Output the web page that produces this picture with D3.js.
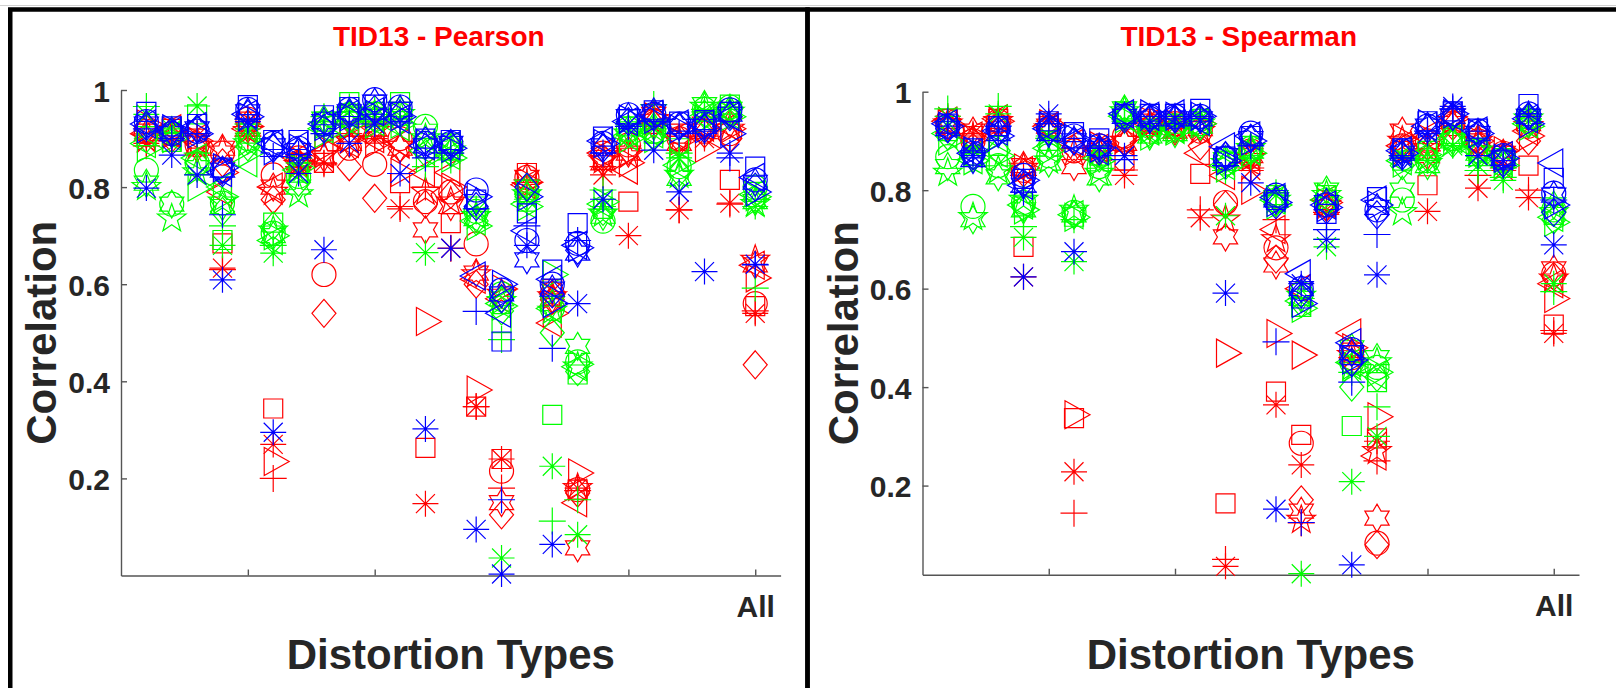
<!DOCTYPE html>
<html><head><meta charset="utf-8">
<script src="https://cdn.jsdelivr.net/npm/d3@7"></script>
<style>html,body{margin:0;padding:0;background:#fff;}svg{display:block;}</style>
</head><body>
<svg id="chart" width="1616" height="688"></svg>
<script>
// ---------------- DATA ----------------
const categories = d3.range(1, 26);            // 24 distortion types + "All" (25)
const xTickValues = [5, 10, 15, 20, 25];
const xTickLabels = ["", "", "", "", "All"];
const yTickValues = [0.2, 0.4, 0.6, 0.8, 1];
const yTickLabels = ["0.2", "0.4", "0.6", "0.8", "1"];
const titles = ["TID13 - Pearson", "TID13 - Spearman"];

const markersRG = ["o", "s", "d", ">", "<", "*", "+", "h", "p"];
const markersB  = ["o", "s", "d", ">", "<", "*", "+", "h"];

// rows = categories 1..25, columns = markers
const pearsonRed = [
[.915,.91,.92,.93,.91,.89,.885,.91,.90],
[.91,.92,.90,.915,.92,.90,.895,.91,.905],
[.887,.90,.89,.895,.90,.905,.91,.88,.885],
[.87,.684,.85,.83,.79,.633,.63,.88,.875],
[.94,.935,.93,.925,.92,.91,.905,.92,.915],
[.825,.344,.774,.235,.80,.27,.20,.80,.79],
[.86,.85,.85,.855,.86,.84,.842,.85,.845],
[.62,.85,.54,.88,.87,.85,.848,.86,.865],
[.88,.913,.842,.90,.89,.91,.905,.89,.895],
[.847,.91,.777,.89,.90,.90,.905,.92,.915],
[.90,.808,.88,.83,.89,.755,.76,.88,.885],
[.77,.263,.765,.523,.83,.148,.80,.712,.79],
[.79,.726,.785,.80,.83,.674,.674,.76,.77],
[.683,.348,.60,.382,.61,.348,.348,.623,.62],
[.215,.24,.125,.59,.57,.24,.18,.15,.58],
[.82,.829,.80,.81,.805,.81,.815,.82,.80],
[.58,.59,.568,.54,.52,.585,.58,.57,.575],
[.177,.177,.17,.211,.15,.18,.175,.057,.18],
[.87,.856,.86,.865,.87,.825,.842,.85,.855],
[.887,.77,.875,.85,.835,.70,.88,.87,.865],
[.935,.94,.93,.945,.94,.925,.93,.95,.94],
[.90,.91,.90,.895,.905,.753,.753,.89,.895],
[.915,.92,.91,.88,.925,.90,.905,.93,.92],
[.91,.815,.90,.92,.925,.767,.765,.93,.92],
[.56,.555,.434,.613,.639,.54,.545,.64,.65]
];
const pearsonGreen = [
[.835,.905,.90,.88,.89,.95,.966,.808,.80],
[.765,.893,.91,.90,.905,.92,.91,.765,.735],
[.85,.95,.85,.80,.86,.967,.87,.84,.83],
[.767,.691,.75,.78,.80,.68,.72,.76,.77],
[.90,.91,.883,.87,.85,.92,.93,.897,.89],
[.705,.727,.72,.70,.69,.664,.68,.70,.71],
[.822,.83,.81,.84,.835,.85,.86,.80,.785],
[.93,.935,.92,.91,.92,.935,.945,.94,.925],
[.95,.975,.94,.93,.935,.955,.965,.95,.945],
[.95,.955,.94,.93,.935,.945,.96,.95,.94],
[.95,.975,.935,.93,.925,.94,.945,.96,.95],
[.925,.88,.87,.86,.875,.665,.842,.915,.90],
[.88,.89,.87,.86,.865,.87,.856,.88,.875],
[.75,.76,.73,.72,.73,.75,.755,.735,.74],
[.58,.52,.545,.555,.56,.036,.486,.57,.565],
[.79,.77,.78,.76,.765,.775,.77,.80,.785],
[.55,.331,.50,.62,.55,.225,.112,.56,.545],
[.44,.414,.42,.435,.43,.084,.156,.472,.43],
[.73,.755,.75,.77,.765,.76,.794,.74,.745],
[.92,.925,.91,.90,.905,.915,.93,.92,.91],
[.915,.91,.905,.90,.91,.92,.97,.925,.92],
[.842,.88,.83,.85,.845,.86,.87,.818,.825],
[.96,.955,.95,.94,.945,.955,.96,.97,.965],
[.965,.97,.95,.945,.95,.96,.965,.96,.955],
[.80,.79,.775,.78,.785,.76,.592,.77,.765]
];
const pearsonBlue = [
[.935,.955,.925,.92,.93,.798,.92,.93],
[.91,.925,.915,.92,.915,.866,.90,.91],
[.915,.93,.92,.91,.925,.825,.91,.92],
[.835,.84,.83,.84,.83,.609,.743,.835],
[.96,.969,.95,.945,.95,.935,.94,.955],
[.89,.897,.88,.875,.89,.295,.863,.885],
[.88,.897,.87,.88,.885,.828,.867,.875],
[.93,.948,.92,.925,.93,.671,.91,.935],
[.96,.965,.95,.945,.95,.89,.93,.955],
[.98,.97,.96,.95,.955,.93,.94,.975],
[.965,.955,.95,.945,.94,.828,.932,.96],
[.89,.90,.895,.89,.885,.302,.86,.885],
[.89,.897,.885,.88,.885,.674,.87,.89],
[.794,.774,.76,.78,.617,.095,.544,.77],
[.588,.482,.57,.60,.54,.003,.156,.58],
[.69,.746,.80,.78,.71,.68,.72,.65],
[.60,.63,.58,.56,.61,.064,.468,.59],
[.684,.726,.67,.675,.68,.56,.69,.664],
[.89,.904,.88,.89,.895,.775,.87,.885],
[.949,.94,.935,.94,.935,.93,.925,.945],
[.95,.958,.945,.94,.95,.876,.935,.955],
[.93,.935,.925,.92,.93,.79,.91,.925],
[.93,.938,.92,.92,.93,.626,.915,.925],
[.959,.955,.945,.91,.945,.87,.86,.95],
[.815,.842,.80,.79,.82,.641,.64,.81]
];

const spearmanRed = [
[.94,.945,.93,.935,.94,.95,.945,.93,.935],
[.90,.91,.90,.905,.91,.915,.91,.92,.905],
[.94,.945,.935,.94,.945,.95,.94,.935,.94],
[.84,.685,.835,.845,.84,.624,.83,.85,.845],
[.925,.93,.92,.935,.93,.94,.935,.93,.925],
[.88,.337,.885,.344,.895,.228,.144,.848,.875],
[.89,.885,.88,.89,.885,.88,.885,.875,.88],
[.91,.86,.90,.905,.90,.83,.841,.895,.90],
[.94,.935,.93,.94,.935,.925,.92,.93,.935],
[.935,.93,.925,.935,.93,.93,.925,.92,.93],
[.92,.833,.89,.935,.875,.744,.76,.925,.92],
[.775,.164,.77,.469,.83,.036,.05,.705,.74],
[.88,.87,.875,.80,.86,.84,.845,.87,.865],
[.683,.391,.66,.509,.72,.364,.74,.648,.70],
[.286,.303,.171,.465,.60,.242,.124,.148,.13],
[.77,.78,.765,.775,.78,.76,.755,.765,.77],
[.46,.47,.45,.48,.51,.455,.46,.47,.465],
[.083,.296,.08,.34,.26,.29,.25,.134,.27],
[.89,.88,.885,.905,.89,.87,.875,.92,.90],
[.90,.81,.89,.905,.91,.757,.88,.87,.885],
[.935,.94,.93,.945,.94,.925,.93,.95,.94],
[.90,.895,.89,.90,.895,.804,.83,.905,.90],
[.875,.87,.865,.88,.87,.84,.845,.875,.87],
[.93,.85,.90,.91,.92,.785,.80,.935,.93],
[.63,.527,.625,.58,.61,.509,.515,.64,.62]
];
const spearmanGreen = [
[.868,.92,.91,.90,.915,.95,.965,.848,.835],
[.767,.87,.865,.86,.862,.88,.875,.74,.745],
[.85,.89,.88,.87,.875,.955,.97,.827,.84],
[.775,.767,.765,.76,.77,.704,.726,.76,.78],
[.87,.90,.89,.88,.885,.91,.905,.855,.86],
[.755,.746,.75,.745,.75,.655,.74,.75,.76],
[.848,.87,.865,.86,.865,.87,.875,.825,.835],
[.955,.96,.95,.945,.95,.94,.945,.965,.96],
[.92,.93,.915,.91,.92,.925,.93,.91,.92],
[.93,.935,.925,.92,.925,.93,.935,.915,.92],
[.935,.945,.93,.935,.94,.945,.95,.93,.935],
[.855,.86,.85,.845,.85,.748,.84,.862,.855],
[.885,.89,.88,.875,.88,.87,.865,.88,.885],
[.78,.79,.775,.77,.78,.79,.795,.785,.78],
[.59,.563,.57,.56,.575,.021,.58,.58,.585],
[.78,.79,.775,.785,.78,.685,.70,.80,.79],
[.45,.321,.40,.44,.45,.208,.43,.48,.44],
[.44,.41,.42,.43,.425,.30,.36,.46,.45],
[.78,.86,.85,.855,.86,.865,.87,.80,.755],
[.86,.88,.865,.87,.875,.86,.87,.85,.855],
[.905,.91,.895,.90,.905,.89,.895,.90,.905],
[.88,.885,.87,.875,.88,.85,.84,.875,.88],
[.86,.865,.855,.85,.855,.82,.826,.86,.855],
[.94,.945,.935,.93,.935,.94,.945,.95,.945],
[.76,.75,.74,.735,.745,.61,.594,.77,.755]
];
const spearmanBlue = [
[.93,.935,.925,.93,.935,.93,.94,.925],
[.875,.885,.87,.88,.875,.87,.88,.862],
[.925,.93,.92,.91,.92,.92,.93,.915],
[.83,.823,.815,.82,.81,.624,.796,.81],
[.925,.94,.92,.93,.925,.955,.935,.915],
[.91,.918,.90,.905,.90,.675,.905,.90],
[.89,.905,.88,.885,.88,.885,.89,.885],
[.95,.955,.945,.95,.955,.87,.862,.95],
[.95,.955,.945,.955,.95,.94,.95,.945],
[.95,.955,.945,.95,.955,.945,.95,.945],
[.95,.965,.945,.95,.94,.94,.95,.945],
[.865,.868,.87,.86,.888,.591,.85,.87],
[.916,.91,.905,.90,.91,.815,.89,.905],
[.79,.78,.77,.775,.785,.152,.492,.78],
[.60,.58,.59,.57,.63,.61,.125,.60],
[.77,.752,.76,.765,.77,.70,.72,.775],
[.476,.465,.45,.455,.49,.039,.41,.47],
[.76,.786,.75,.77,.78,.628,.71,.765],
[.88,.885,.87,.875,.88,.865,.87,.875],
[.93,.94,.925,.935,.93,.915,.92,.93],
[.955,.96,.95,.955,.95,.97,.965,.95],
[.92,.925,.915,.915,.92,.87,.92,.915],
[.87,.862,.855,.865,.87,.86,.85,.865],
[.955,.975,.95,.935,.945,.95,.955,.95],
[.794,.825,.755,.77,.855,.689,.78,.79]
];

// ---------------- DRAWING ----------------
const svg = d3.select("#chart");
const FONT = "'Liberation Sans', Arial, Helvetica, sans-serif";

function starPath(n, R, r) {
  const p = d3.path();
  for (let i = 0; i < 2 * n; i++) {
    const a = -Math.PI / 2 + i * Math.PI / n;
    const rad = i % 2 === 0 ? R : r;
    const px = rad * Math.cos(a), py = rad * Math.sin(a);
    if (i === 0) p.moveTo(px, py); else p.lineTo(px, py);
  }
  p.closePath();
  return p.toString();
}
const glyph = {
  "o": (() => { const p = d3.path(); p.arc(0, 0, 12, 0, 2 * Math.PI); return p.toString(); })(),
  "s": "M-9.5,-9.5H9.5V9.5H-9.5Z",
  "d": "M0,-14L12,0L0,14L-12,0Z",
  ">": "M-9,-14L16,0L-9,14Z",
  "<": "M9,-14L-16,0L9,14Z",
  "*": "M-13,0H13M0,-13V13M-9.5,-9.5L9.5,9.5M-9.5,9.5L9.5,-9.5",
  "+": "M-13.5,0H13.5M0,-13.5V13.5",
  "h": starPath(6, 14, 8.1),
  "p": starPath(5, 15, 6)
};

// frame
svg.append("line").attr("x1", 0).attr("x2", 1616).attr("y1", 5.5).attr("y2", 5.5)
  .attr("stroke", "#d0d0d0").attr("stroke-width", 1);
svg.append("rect").attr("x", 10.25).attr("y", 9.5).attr("width", 797.25).attr("height", 700)
  .attr("fill", "none").attr("stroke", "#000").attr("stroke-width", 4.5);
svg.append("rect").attr("x", 807.5).attr("y", 9.5).attr("width", 820).attr("height", 700)
  .attr("fill", "none").attr("stroke", "#000").attr("stroke-width", 4.5);

const panels = [
  { title: titles[0], red: pearsonRed, green: pearsonGreen, blue: pearsonBlue,
    x0: 121, x1: 780.6, yTop: 90, yBot: 575.5, yMin: 0 },
  { title: titles[1], red: spearmanRed, green: spearmanGreen, blue: spearmanBlue,
    x0: 922.5, x1: 1579, yTop: 91.7, yBot: 574.7, yMin: 0.019 }
];

panels.forEach(P => {
  const x = d3.scaleLinear().domain([0, 26]).range([P.x0, P.x1]);
  const y = d3.scaleLinear().domain([P.yMin, 1]).range([P.yBot, P.yTop]);
  const g = svg.append("g");

  const yAxis = d3.axisLeft(y).tickValues(yTickValues)
    .tickFormat((d, i) => yTickLabels[i]).tickSizeInner(-6).tickSizeOuter(0).tickPadding(11);
  const ya = g.append("g").attr("transform", `translate(${P.x0},0)`).call(yAxis);
  const xAxis = d3.axisBottom(x).tickValues(xTickValues)
    .tickFormat((d, i) => xTickLabels[i]).tickSizeInner(-6).tickSizeOuter(0).tickPadding(20);
  const xa = g.append("g").attr("transform", `translate(0,${P.yBot})`).call(xAxis);
  [ya, xa].forEach(a => {
    a.select(".domain").attr("stroke", "#555").attr("stroke-width", 1.4);
    a.selectAll(".tick line").attr("stroke", "#555").attr("stroke-width", 1.4);
    a.selectAll(".tick text").attr("fill", "#262626").attr("font-family", FONT)
      .attr("font-weight", "bold").attr("font-size", 30);
  });
  ya.selectAll(".tick text").attr("dy", "0.37em");

  const layers = [
    { data: P.red, markers: markersRG, color: "#ff0000" },
    { data: P.green, markers: markersRG, color: "#00ff00" },
    { data: P.blue, markers: markersB, color: "#0000ff" }
  ];
  layers.forEach(L => {
    const pts = [];
    L.markers.forEach((m, j) => {
      categories.forEach((c, i) => {
        const v = L.data[i][j];
        if (v !== null && v !== undefined) pts.push({ c, v, m });
      });
    });
    g.append("g").selectAll("path").data(pts).join("path")
      .attr("d", d => glyph[d.m])
      .attr("transform", d => `translate(${x(d.c)},${y(d.v)})`)
      .attr("fill", "none").attr("stroke", L.color).attr("stroke-width", 1.2);
  });

  const cx = (P.x0 + P.x1) / 2;
  g.append("text").attr("x", cx - 12).attr("y", 46).attr("text-anchor", "middle")
    .attr("font-family", FONT).attr("font-weight", "bold").attr("font-size", 28)
    .attr("fill", "#ff0000").text(P.title);
  g.append("text").attr("x", cx).attr("y", 669).attr("text-anchor", "middle")
    .attr("font-family", FONT).attr("font-weight", "bold").attr("font-size", 42)
    .attr("fill", "#262626").text("Distortion Types");
  g.append("text").attr("transform", `translate(${P.x0 - 65},${(P.yTop + P.yBot) / 2}) rotate(-90)`)
    .attr("text-anchor", "middle")
    .attr("font-family", FONT).attr("font-weight", "bold").attr("font-size", 42)
    .attr("fill", "#262626").text("Correlation");
});
</script>
</body></html>
